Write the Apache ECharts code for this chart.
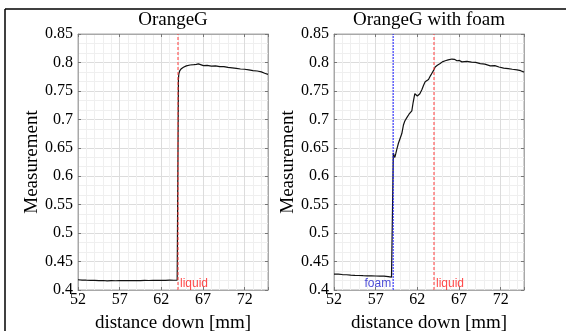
<!DOCTYPE html>
<html>
<head>
<meta charset="utf-8">
<script src="https://cdn.jsdelivr.net/npm/echarts@6/dist/echarts.min.js"></script>
<style>html,body{margin:0;padding:0;background:#fff;}#c{width:566px;height:331px;}</style>
</head>
<body>
<div id="c"></div>
<script>
// ---- data ----
const titles = ['OrangeG', 'OrangeG with foam'];
const xTickLabels = [52, 57, 62, 67, 72];
const yTickLabels = [0.4, 0.45, 0.5, 0.55, 0.6, 0.65, 0.7, 0.75, 0.8, 0.85];
const xName = 'distance down [mm]';
const yName = 'Measurement';

const orangeX = [52, 52.5, 53, 53.5, 54, 54.5, 55, 55.5, 56, 56.5, 57, 57.5, 58, 58.5, 59, 59.5, 60, 60.5, 61, 61.5, 62, 62.5, 63, 63.5, 63.9, 64.05, 64.05, 64.1, 64.2, 64.4, 64.65, 65.0, 65.45, 65.9, 66.2, 66.45, 66.6, 67.05, 67.5, 68.0, 68.5, 69.0, 69.5, 70.0, 70.5, 71.0, 71.5, 72.0, 72.5, 73.0, 73.5, 74.0, 74.4, 74.8];
const orangeY = [0.418, 0.4175, 0.4172, 0.417, 0.4168, 0.4165, 0.4167, 0.4162, 0.4165, 0.4163, 0.4166, 0.4164, 0.4166, 0.4165, 0.4167, 0.4166, 0.4168, 0.4167, 0.4169, 0.4168, 0.417, 0.4169, 0.4172, 0.4171, 0.4175, 0.4185, 0.770, 0.780, 0.785, 0.789, 0.7915, 0.794, 0.7955, 0.796, 0.7965, 0.7975, 0.7962, 0.7945, 0.795, 0.7935, 0.794, 0.7925, 0.7928, 0.7912, 0.7905, 0.7895, 0.7885, 0.788, 0.7868, 0.7855, 0.785, 0.7835, 0.781, 0.779];

const foamX = [52, 52.5, 53, 53.5, 54, 54.5, 55, 55.5, 56, 56.5, 57, 57.5, 58, 58.5, 58.9, 59.1, 59.12, 59.2, 59.3, 59.42, 59.55, 59.73, 59.9, 60.14, 60.33, 60.5, 60.74, 61.0, 61.34, 61.5, 61.7, 61.85, 62.0, 62.14, 62.3, 62.54, 62.75, 62.94, 63.1, 63.34, 63.55, 63.75, 63.95, 64.14, 64.4, 64.74, 65.0, 65.35, 65.7, 66.15, 66.45, 66.75, 67.05, 67.35, 67.95, 68.5, 69.0, 69.55, 70.1, 70.76, 71.3, 71.8, 72.36, 72.9, 73.4, 73.97, 74.4, 74.8];
const foamY = [0.428, 0.4278, 0.4272, 0.4268, 0.4262, 0.4258, 0.4255, 0.4252, 0.425, 0.4248, 0.4246, 0.4245, 0.4244, 0.4235, 0.4225, 0.426, 0.641, 0.637, 0.633, 0.64, 0.648, 0.658, 0.665, 0.675, 0.69, 0.697, 0.703, 0.709, 0.715, 0.73, 0.745, 0.748, 0.741, 0.74, 0.745, 0.752, 0.76, 0.766, 0.769, 0.77, 0.776, 0.781, 0.786, 0.792, 0.795, 0.798, 0.801, 0.803, 0.8045, 0.806, 0.8055, 0.803, 0.8035, 0.801, 0.802, 0.8005, 0.8, 0.798, 0.797, 0.794, 0.7945, 0.792, 0.79, 0.789, 0.788, 0.787, 0.7855, 0.783];

const liquidX = 64.0;
const foamLineX = 59.1;
const markerLabelY = 0.4118;
const xMin = 52, xMax = 74.8, yMin = 0.4, yMax = 0.85;

// ---- chart ----
const serif = 'Liberation Serif';
const majorGrid = '#dcdcdc', minorGrid = '#efefef', boxColor = '#a8a8a8', tickColor = '#777';
const grids = [
  {left: 78, top: 34, width: 190, height: 256},
  {left: 334, top: 34, width: 190, height: 256}
];
const xAxes = [], yAxes = [];
grids.forEach((g, gi) => {
  xAxes.push({
    type: 'value', gridIndex: gi, min: xMin, max: xMax, interval: 1, position: 'bottom',
    name: xName, nameLocation: 'middle', nameGap: 24,
    nameTextStyle: {fontFamily: serif, fontSize: 19, color: '#000'},
    axisLine: {show: true, onZero: false, lineStyle: {color: boxColor}},
    axisTick: {show: false},
    axisLabel: {
      fontFamily: serif, fontSize: 16, color: '#000', margin: 2,
      formatter: v => (xTickLabels.indexOf(v) >= 0 ? String(v) : '')
    },
    splitLine: {show: true, lineStyle: {color: [majorGrid, minorGrid, minorGrid, minorGrid, minorGrid], width: 1}}
  });
  ['bottom', 'top'].forEach(pos => xAxes.push({
    type: 'value', gridIndex: gi, min: xMin, max: xMax, interval: 5, position: pos,
    axisLine: {show: pos === 'top', onZero: false, lineStyle: {color: boxColor}},
    axisTick: {show: true, inside: true, length: 3, lineStyle: {color: tickColor}},
    axisLabel: {show: false}, splitLine: {show: false}
  }));
  yAxes.push({
    type: 'value', gridIndex: gi, min: yMin, max: yMax, interval: 0.05, position: 'left',
    name: yName, nameLocation: 'middle', nameGap: 36,
    nameTextStyle: {fontFamily: serif, fontSize: 19, color: '#000'},
    axisLine: {show: true, onZero: false, lineStyle: {color: boxColor}},
    axisTick: {show: true, inside: true, length: 3, lineStyle: {color: tickColor}},
    axisLabel: {fontFamily: serif, fontSize: 16, color: '#000', margin: 5,
      formatter: v => { const m = yTickLabels.find(t => Math.abs(t - v) < 1e-6); return m === undefined ? '' : String(m); }},
    splitLine: {show: true, lineStyle: {color: majorGrid}},
    minorTick: {show: false, splitNumber: 3},
    minorSplitLine: {show: true, lineStyle: {color: minorGrid}}
  });
  yAxes.push({
    type: 'value', gridIndex: gi, min: yMin, max: yMax, interval: 0.05, position: 'right',
    axisLine: {show: true, onZero: false, lineStyle: {color: boxColor}},
    axisTick: {show: true, inside: true, length: 3, lineStyle: {color: tickColor}},
    axisLabel: {show: false}, splitLine: {show: false}
  });
});

function curve(xs, ys) { return xs.map((x, i) => [x, ys[i]]); }
function vline(x, gi, color, type, z) {
  return {type: 'line', xAxisIndex: gi * 3, yAxisIndex: gi * 2, data: [[x, yMin], [x, yMax]],
    showSymbol: false, silent: true, z: z, lineStyle: {color: color, width: 1, type: type}};
}
function textMark(x, gi, text, color, pos) {
  return {type: 'scatter', xAxisIndex: gi * 3, yAxisIndex: gi * 2, data: [[x, markerLabelY]],
    symbolSize: 0, silent: true, z: 6,
    label: {show: true, position: pos, distance: 2, formatter: text, color: color,
      fontFamily: 'Liberation Sans', fontSize: 12}};
}
const series = [
  {type: 'line', xAxisIndex: 0, yAxisIndex: 0, data: curve(orangeX, orangeY), showSymbol: false,
    lineStyle: {color: '#111', width: 1.2}, z: 3},
  vline(liquidX, 0, '#ff3b3b', [3, 2], 4),
  textMark(liquidX, 0, 'liquid', '#ff1a1a', 'right'),
  {type: 'line', xAxisIndex: 3, yAxisIndex: 2, data: curve(foamX, foamY), showSymbol: false,
    lineStyle: {color: '#111', width: 1.2}, z: 3},
  vline(foamLineX, 1, '#1a1aff', [2, 1], 4),
  vline(liquidX, 1, '#ff3b3b', [3, 2], 4),
  textMark(foamLineX, 1, 'foam', '#1a1acc', 'left'),
  textMark(liquidX, 1, 'liquid', '#ff1a1a', 'right')
];

const chart = echarts.init(document.getElementById('c'), null, {renderer: 'canvas'});
chart.setOption({
  animation: false,
  backgroundColor: '#fff',
  grid: grids.map(g => Object.assign({show: true, borderColor: boxColor, borderWidth: 1, backgroundColor: '#fff', containLabel: false, outerBoundsMode: 'none'}, g)),
  xAxis: xAxes,
  yAxis: yAxes,
  series: series,
  graphic: [
    {type: 'text', style: {text: titles[0], x: 173, y: 11, textAlign: 'center', textVerticalAlign: 'top', font: '19px "Liberation Serif"', fill: '#000'}},
    {type: 'text', style: {text: titles[1], x: 429, y: 11, textAlign: 'center', textVerticalAlign: 'top', font: '19px "Liberation Serif"', fill: '#000'}},
    {type: 'line', shape: {x1: 5, y1: 9, x2: 566, y2: 9}, style: {stroke: '#000', lineWidth: 1.5}},
    {type: 'line', shape: {x1: 5, y1: 9, x2: 5, y2: 331}, style: {stroke: '#000', lineWidth: 1.5}}
  ]
});
</script>
</body>
</html>
